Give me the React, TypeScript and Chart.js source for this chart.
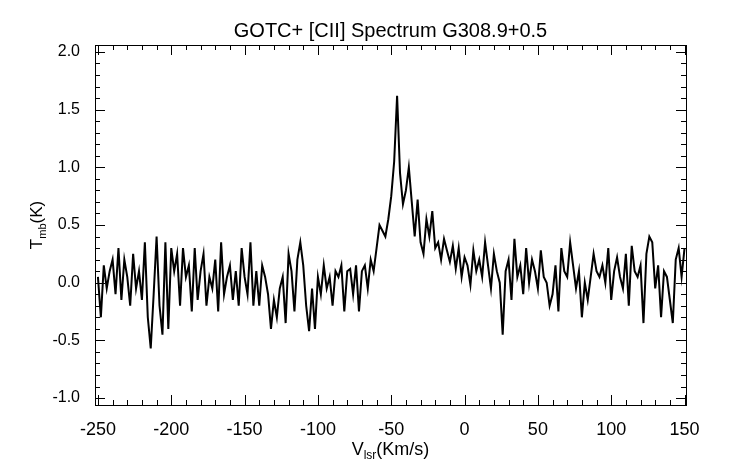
import React, { useEffect, useRef } from "react";
import { Chart, registerables } from "chart.js";
Chart.register(...registerables);

const vStart = -250;
const vStep = 2;
const tmb: number[] = [
  0.05,-0.3,0.15,-0.05,0.1,0.2,-0.1,0.3,-0.15,0.2,
  0.05,-0.2,0.25,-0.05,0.1,-0.15,0.35,-0.3,-0.57,-0.1,
  0.4,-0.2,-0.45,0.35,-0.4,0.3,0.1,0.25,-0.2,0.3,
  0.05,0.15,-0.25,0.3,-0.15,0.1,0.25,-0.2,0.05,-0.05,
  0.2,-0.25,0.35,-0.1,0.05,0.15,-0.15,0.1,-0.2,0.3,
  0.05,-0.1,0.35,-0.2,0.1,-0.2,0.15,0.05,-0.1,-0.4,
  -0.15,-0.3,-0.05,0.05,-0.35,0.25,0.1,-0.25,0.2,0.35,
  0.15,-0.2,-0.42,-0.05,-0.4,0.05,-0.1,0.15,-0.05,0.05,
  -0.2,0.1,0.05,0.15,-0.25,0.1,0.12,-0.1,0.15,-0.25,
  0.1,0.15,-0.05,0.2,0.1,0.3,0.5,0.45,0.4,0.55,
  0.75,1.05,1.62,0.95,0.68,0.8,1.0,0.7,0.4,0.72,
  0.35,0.25,0.55,0.4,0.62,0.3,0.35,0.2,0.38,0.28,
  0.18,0.32,0.12,0.3,0.05,0.22,0.15,-0.02,0.28,0.1,
  0.2,0.05,0.35,0.15,-0.05,0.25,0.1,0.0,-0.45,0.1,
  0.2,-0.15,0.38,0.05,0.15,-0.1,0.3,0.0,0.2,0.1,
  -0.05,0.28,0.05,0.0,-0.2,-0.1,0.15,-0.25,0.3,0.1,
  0.05,0.35,0.15,-0.05,0.1,-0.3,0.0,-0.15,0.05,0.25,
  0.1,0.05,0.15,0.0,0.3,-0.15,0.1,0.22,0.05,-0.05,
  0.25,-0.2,0.32,0.1,0.05,0.15,-0.35,0.25,0.4,0.35,
  -0.05,0.15,-0.3,0.1,0.05,-0.15,-0.35,0.2,0.3,0.05,
  0.3,
];
const xTicks = [-250, -200, -150, -100, -50, 0, 50, 100, 150];
const yTicks = [-1.0, -0.5, 0.0, 0.5, 1.0, 1.5, 2.0];
const FONT = "'Liberation Sans', Arial, sans-serif";

const framePlugin = {
  id: "frame",
  afterDraw(chart: any) {
    const { ctx, chartArea: a, scales } = chart;
    const xs = scales.x, ys = scales.y;
    ctx.save();
    ctx.strokeStyle = "#000";
    ctx.lineWidth = 1;
    ctx.strokeRect(a.left + 0.5, a.top + 0.5, a.right - a.left, a.bottom - a.top);
    ctx.beginPath();
    for (let v = -250; v <= 150; v += 10) {
      const px = Math.round(xs.getPixelForValue(v)) + 0.5;
      const L = v % 50 === 0 ? 10 : 5;
      ctx.moveTo(px, a.bottom); ctx.lineTo(px, a.bottom - L);
      ctx.moveTo(px, a.top); ctx.lineTo(px, a.top + L);
    }
    for (let i = -10; i <= 20; i++) {
      const v = i / 10;
      const py = Math.round(ys.getPixelForValue(v)) + 0.5;
      const L = i % 5 === 0 ? 10 : 5;
      ctx.moveTo(a.left, py); ctx.lineTo(a.left + L, py);
      ctx.moveTo(a.right, py); ctx.lineTo(a.right - L, py);
    }
    ctx.stroke();
    ctx.fillStyle = "#000";
    ctx.font = `20px ${FONT}`;
    ctx.textAlign = "center";
    ctx.textBaseline = "alphabetic";
    ctx.fillText("GOTC+ [CII] Spectrum G308.9+0.5", (a.left + a.right) / 2, 37);
    const xt1 = "V", xt2 = "lsr", xt3 = "(Km/s)";
    ctx.font = `18px ${FONT}`; const w1 = ctx.measureText(xt1).width, w3 = ctx.measureText(xt3).width;
    ctx.font = `12px ${FONT}`; const w2 = ctx.measureText(xt2).width;
    let x0 = (a.left + a.right) / 2 - (w1 + w2 + w3) / 2;
    const yb = 455;
    ctx.textAlign = "left";
    ctx.font = `18px ${FONT}`; ctx.fillText(xt1, x0, yb);
    ctx.font = `12px ${FONT}`; ctx.fillText(xt2, x0 + w1, yb + 4);
    ctx.font = `18px ${FONT}`; ctx.fillText(xt3, x0 + w1 + w2, yb);
    ctx.translate(42, (a.top + a.bottom) / 2);
    ctx.rotate(-Math.PI / 2);
    const t1 = "T", t2 = "mb", t3 = "(K)";
    ctx.font = `17px ${FONT}`; const u1 = ctx.measureText(t1).width, u3 = ctx.measureText(t3).width;
    ctx.font = `11px ${FONT}`; const u2 = ctx.measureText(t2).width;
    x0 = -(u1 + u2 + u3) / 2;
    ctx.font = `17px ${FONT}`; ctx.fillText(t1, x0, 0);
    ctx.font = `11px ${FONT}`; ctx.fillText(t2, x0 + u1, 4);
    ctx.font = `17px ${FONT}`; ctx.fillText(t3, x0 + u1 + u2, 0);
    ctx.restore();
  },
};

export default function App() {
  const ref = useRef<HTMLCanvasElement>(null);
  useEffect(() => {
    document.body.style.margin = "0";
    const data = tmb.map((y, i) => ({ x: vStart + i * vStep, y }));
    const chart = new Chart(ref.current!, {
      type: "line",
      data: { datasets: [{ data, borderColor: "#000", borderWidth: 2, pointRadius: 0, tension: 0 }] },
      options: {
        animation: false,
        responsive: false,
        layout: { padding: { left: 0, top: 45, right: 56, bottom: 0 } },
        plugins: { legend: { display: false }, tooltip: { enabled: false } },
        scales: {
          x: {
            type: "linear", min: -252, max: 151,
            afterFit: (s: any) => { s.height = 59; },
            afterBuildTicks: (s: any) => { s.ticks = xTicks.map((v) => ({ value: v })); },
            grid: { display: false }, border: { display: false },
            ticks: { color: "#000", font: { size: 18, family: FONT }, padding: 6, maxRotation: 0 },
          },
          y: {
            type: "linear", min: -1.06, max: 2.06,
            afterFit: (s: any) => { s.width = 95; },
            afterBuildTicks: (s: any) => { s.ticks = yTicks.map((v) => ({ value: v })); },
            grid: { display: false }, border: { display: false },
            ticks: { color: "#000", font: { size: 16, family: FONT }, padding: 7, callback: (v: any) => Number(v).toFixed(1) },
          },
        },
      },
      plugins: [framePlugin],
    });
    return () => chart.destroy();
  }, []);
  return <canvas ref={ref} width={742} height={464} style={{ display: "block" }} />;
}
